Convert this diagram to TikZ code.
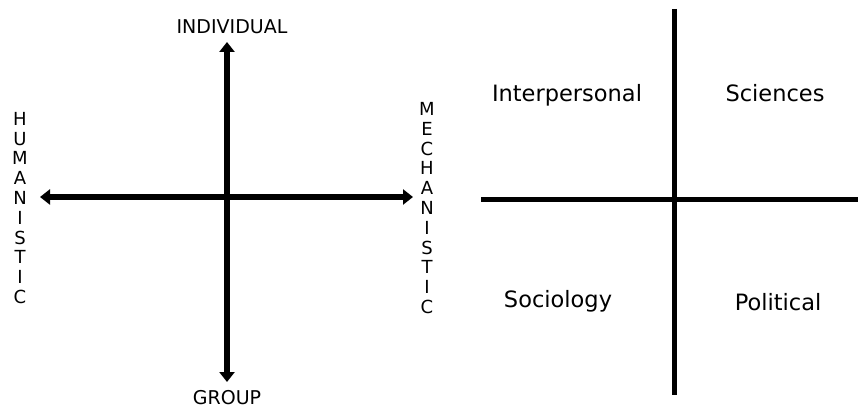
\documentclass[tikz,border=0pt]{standalone}
\usepackage{fontspec}
\setmainfont{DejaVu Sans}
\usetikzlibrary{arrows.meta}
\begin{document}
\begin{tikzpicture}[x=1pt,y=-1pt,
  axis/.style={line width=6pt,{Triangle[width=15pt,length=10pt]}-{Triangle[width=15pt,length=10pt]}},
  plainline/.style={line width=5pt},
  caplabel/.style={inner sep=0pt,font=\fontsize{19}{22}\selectfont},
  stacklabel/.style={inner sep=0pt,align=center,font=\fontsize{18}{19.8}\selectfont},
  quad/.style={inner sep=0pt,font=\fontsize{22.5}{26}\selectfont}]
\useasboundingbox (0,0) rectangle (858,411);
% left diagram
\coordinate (top) at (227,42);
\coordinate (bot) at (227,382);
\coordinate (lft) at (40,197);
\coordinate (rgt) at (413,197);
\draw[axis] (bot) -- (top);
\draw[axis] (lft) -- (rgt);
\node[caplabel] (indiv) at (232,27) {INDIVIDUAL};
\node[caplabel] (group) at (227,398) {GROUP};
\node[stacklabel] (hum) at (20,208) {H\\U\\M\\A\\N\\I\\S\\T\\I\\C};
\node[stacklabel] (mech) at (427,208) {M\\E\\C\\H\\A\\N\\I\\S\\T\\I\\C};
% right diagram
\coordinate (rt) at (674,9);
\coordinate (rb) at (674,395);
\coordinate (rl) at (481,200);
\coordinate (rr) at (858,200);
\draw[plainline] (rt) -- (rb);
\draw[plainline] (rl) -- (rr);
\node[quad] (inter) at (567,95) {Interpersonal};
\node[quad] (sci) at (775,93) {Sciences};
\node[quad] (soc) at (558,301) {Sociology};
\node[quad] (pol) at (778,302) {Political};
\end{tikzpicture}
\end{document}
